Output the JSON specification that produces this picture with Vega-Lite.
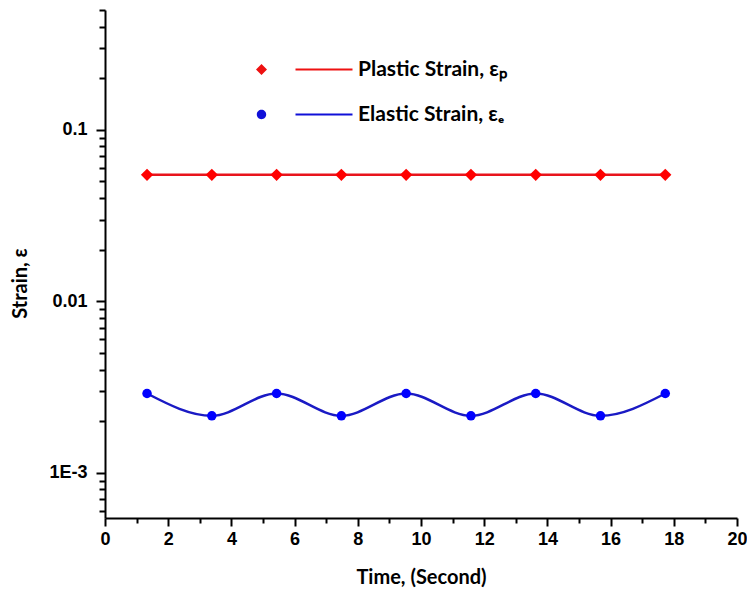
{
  "$schema": "https://vega.github.io/schema/vega-lite/v6.json",
  "width": 632,
  "height": 508,
  "autosize": {"type": "none"},
  "padding": {"left": 105, "top": 10, "right": 10, "bottom": 76},
  "background": "white",
  "config": {"view": {"stroke": null}},
  "data": {
    "values": [
      {"t": 1.33, "strain": 0.0547, "series": "Plastic Strain, εₚ"},
      {"t": 3.38, "strain": 0.0547, "series": "Plastic Strain, εₚ"},
      {"t": 5.43, "strain": 0.0547, "series": "Plastic Strain, εₚ"},
      {"t": 7.48, "strain": 0.0547, "series": "Plastic Strain, εₚ"},
      {"t": 9.53, "strain": 0.0547, "series": "Plastic Strain, εₚ"},
      {"t": 11.58, "strain": 0.0547, "series": "Plastic Strain, εₚ"},
      {"t": 13.63, "strain": 0.0547, "series": "Plastic Strain, εₚ"},
      {"t": 15.68, "strain": 0.0547, "series": "Plastic Strain, εₚ"},
      {"t": 17.73, "strain": 0.0547, "series": "Plastic Strain, εₚ"},
      {"t": 1.33, "strain": 0.0029, "series": "Elastic Strain, εₑ"},
      {"t": 3.38, "strain": 0.00215, "series": "Elastic Strain, εₑ"},
      {"t": 5.43, "strain": 0.0029, "series": "Elastic Strain, εₑ"},
      {"t": 7.48, "strain": 0.00215, "series": "Elastic Strain, εₑ"},
      {"t": 9.53, "strain": 0.0029, "series": "Elastic Strain, εₑ"},
      {"t": 11.58, "strain": 0.00215, "series": "Elastic Strain, εₑ"},
      {"t": 13.63, "strain": 0.0029, "series": "Elastic Strain, εₑ"},
      {"t": 15.68, "strain": 0.00215, "series": "Elastic Strain, εₑ"},
      {"t": 17.73, "strain": 0.0029, "series": "Elastic Strain, εₑ"}
    ]
  },
  "encoding": {
    "x": {
      "field": "t",
      "type": "quantitative",
      "scale": {"domain": [0, 20], "nice": false, "zero": false},
      "axis": {
        "title": "Time, (Second)",
        "values": [0,1,2,3,4,5,6,7,8,9,10,11,12,13,14,15,16,17,18,19,20],
        "labelExpr": "datum.value % 2 === 0 ? datum.label : ''",
        "tickSize": {"condition": {"test": "datum.value % 2 === 0", "value": 8}, "value": 5},
        "grid": false,
        "domainColor": "black",
        "domainWidth": 2,
        "tickColor": "black",
        "tickWidth": 2,
        "labelFont": "Liberation Sans",
        "labelFontWeight": "bold",
        "labelFontSize": 18,
        "labelColor": "black",
        "labelPadding": 4,
        "labelFlush": false,
        "labelOverlap": false,
        "titleFont": "Lato",
        "titleFontSize": 20,
        "titleFontWeight": "bold",
        "titleColor": "black",
        "titlePadding": 19
      }
    },
    "y": {
      "field": "strain",
      "type": "quantitative",
      "scale": {"type": "log", "domain": [0.000545, 0.5], "nice": false, "zero": false},
      "axis": {
        "title": "Strain, ε",
        "values": [0.0006,0.0007,0.0008,0.0009,0.001,0.002,0.003,0.004,0.005,0.006,0.007,0.008,0.009,0.01,0.02,0.03,0.04,0.05,0.06,0.07,0.08,0.09,0.1,0.2,0.3,0.4,0.5],
        "labelExpr": "datum.value == 0.001 ? '1E-3' : datum.value == 0.01 ? '0.01' : datum.value == 0.1 ? '0.1' : ''",
        "tickSize": {"condition": {"test": "datum.value == 0.001 || datum.value == 0.01 || datum.value == 0.1", "value": 9}, "value": 6},
        "grid": false,
        "domainColor": "black",
        "domainWidth": 2,
        "tickColor": "black",
        "tickWidth": 2,
        "labelFont": "Liberation Sans",
        "labelFontWeight": "bold",
        "labelFontSize": 18,
        "labelColor": "black",
        "labelPadding": 9,
        "labelFlush": false,
        "labelOverlap": false,
        "titleFont": "Lato",
        "titleFontSize": 20,
        "titleFontWeight": "bold",
        "titleColor": "black",
        "titlePadding": 18,
        "titleY": 273
      }
    }
  },
  "resolve": {"scale": {"shape": "independent"}},
  "layer": [
    {
      "mark": {"type": "line", "interpolate": "monotone", "strokeWidth": 2.5},
      "encoding": {
        "color": {
          "field": "series",
          "type": "nominal",
          "scale": {"domain": ["Plastic Strain, εₚ", "Elastic Strain, εₑ"], "range": ["#e8141c", "#1a1ac4"]},
          "legend": null
        }
      }
    },
    {
      "mark": {"type": "point", "filled": true, "opacity": 1, "strokeWidth": 0},
      "encoding": {
        "fill": {
          "field": "series",
          "type": "nominal",
          "scale": {"domain": ["Plastic Strain, εₚ", "Elastic Strain, εₑ"], "range": ["#ff0000", "#0000ff"]},
          "legend": null
        },
        "shape": {
          "field": "series",
          "type": "nominal",
          "scale": {"domain": ["Plastic Strain, εₚ", "Elastic Strain, εₑ"], "range": ["diamond", "circle"]},
          "legend": null
        },
        "size": {
          "field": "series",
          "type": "nominal",
          "scale": {"domain": ["Plastic Strain, εₚ", "Elastic Strain, εₑ"], "range": [150, 90]},
          "legend": null
        }
      }
    },
    {
      "transform": [{"filter": "indexof(datum.series, 'Plastic') >= 0"}],
      "mark": {"type": "point", "filled": true, "fill": "#ee1111", "opacity": 0, "strokeWidth": 0},
      "encoding": {
        "shape": {
          "field": "series",
          "type": "nominal",
          "scale": {
            "domain": ["Plastic Strain, εₚ"],
            "range": ["M0,-0.55 L0.55,0 L0,0.55 L-0.55,0 Z M3.4,-0.11 L9.1,-0.11 L9.1,0.11 L3.4,0.11 Z"]
          },
          "legend": {
            "orient": "none",
            "legendX": 146,
            "legendY": 49,
            "title": null,
            "padding": 0,
            "symbolSize": 400,
            "symbolOpacity": 1,
            "symbolStrokeWidth": 0,
            "symbolFillColor": "#ee1111",
            "labelOffset": 86,
            "labelFont": "Lato",
            "labelFontSize": 21,
            "labelFontWeight": "bold",
            "labelColor": "black",
            "labelLimit": 300
          }
        }
      }
    },
    {
      "transform": [{"filter": "indexof(datum.series, 'Elastic') >= 0"}],
      "mark": {"type": "point", "filled": true, "fill": "#1010d8", "opacity": 0, "strokeWidth": 0},
      "encoding": {
        "shape": {
          "field": "series",
          "type": "nominal",
          "scale": {
            "domain": ["Elastic Strain, εₑ"],
            "range": ["M-0.47,0 A0.47,0.47 0 1,1 0.47,0 A0.47,0.47 0 1,1 -0.47,0 Z M3.4,-0.11 L9.1,-0.11 L9.1,0.11 L3.4,0.11 Z"]
          },
          "legend": {
            "orient": "none",
            "legendX": 146,
            "legendY": 94,
            "title": null,
            "padding": 0,
            "symbolSize": 400,
            "symbolOpacity": 1,
            "symbolStrokeWidth": 0,
            "symbolFillColor": "#1010d8",
            "labelOffset": 86,
            "labelFont": "Lato",
            "labelFontSize": 21,
            "labelFontWeight": "bold",
            "labelColor": "black",
            "labelLimit": 300
          }
        }
      }
    }
  ]
}
